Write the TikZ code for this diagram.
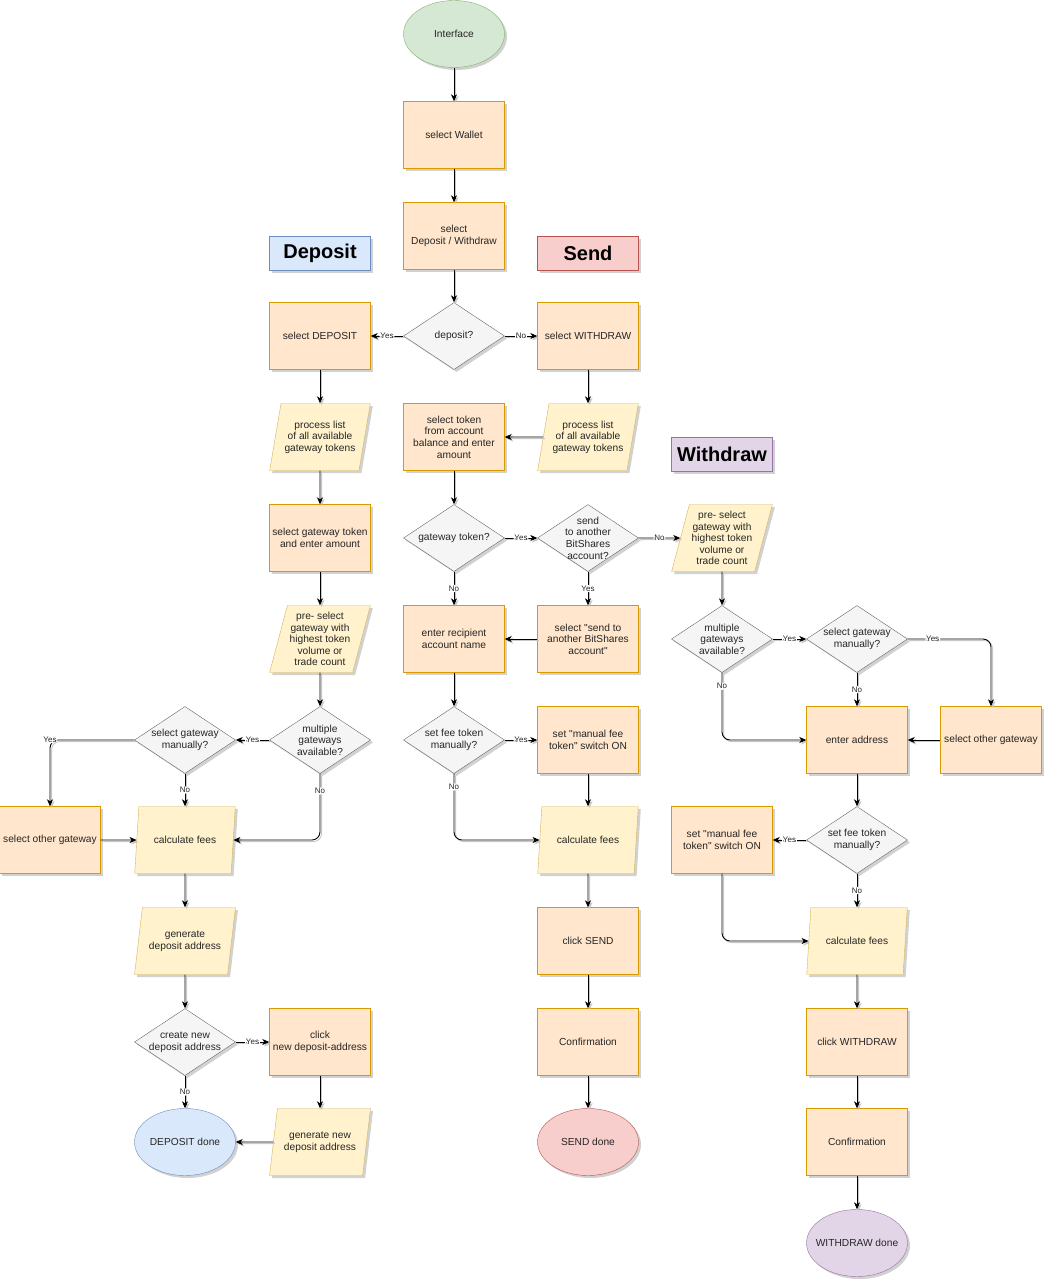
\documentclass[tikz,border=0pt]{standalone}
\usepackage{fontspec}
\setmainfont{Liberation Sans}
\usetikzlibrary{shapes.geometric,arrows.meta,shadows}
\definecolor{boxF}{HTML}{FFE6CC}\definecolor{boxD}{HTML}{D79B00}
\definecolor{parF}{HTML}{FFF2CC}\definecolor{parD}{HTML}{D6B656}
\definecolor{diaF}{HTML}{F5F5F5}\definecolor{diaD}{HTML}{666666}
\definecolor{grnF}{HTML}{D5E8D4}\definecolor{grnD}{HTML}{82B366}
\definecolor{bluF}{HTML}{DAE8FC}\definecolor{bluD}{HTML}{6C8EBF}
\definecolor{redF}{HTML}{F8CECC}\definecolor{redD}{HTML}{B85450}
\definecolor{purF}{HTML}{E1D5E7}\definecolor{purD}{HTML}{9673A6}
\newcommand{\qq}{\textquotedbl}
\begin{document}
\begin{tikzpicture}[x=1pt,y=-1pt,
  txt/.style={font=\fontsize{10.2}{11.6}\selectfont,align=center,inner sep=1pt,text=black!85},
  base/.style={txt,
    drop shadow={shadow xshift=2.5pt,shadow yshift=-2.5pt,fill=black!40,opacity=0.45}},
  proc/.style={base,rectangle,draw=boxD,fill=boxF,minimum width=101pt,minimum height=67pt},
  io/.style={base,trapezium,trapezium left angle=73,trapezium right angle=107,trapezium stretches=true,
    draw=parD,fill=parF,minimum width=101pt,minimum height=67pt},
  dec/.style={base,diamond,draw=diaD,fill=diaF,minimum width=101pt,minimum height=67pt,inner sep=0pt},
  term/.style={base,ellipse,minimum width=101pt,minimum height=67pt,inner sep=0pt},
  in/.style={label={[txt]center:{#1}}},
  title/.style={base,rectangle,minimum width=101pt,minimum height=34pt,font=\fontsize{20}{24}\bfseries,text=black},
  arr/.style={draw=black,line width=0.9pt,-{Stealth[length=7pt,width=6pt,inset=2pt]},rounded corners=8pt,
    preaction={draw=black!22,line width=0.9pt,transform canvas={shift={(1.6pt,-1.6pt)}}}},
  lbl/.style={fill=white,font=\fontsize{8}{9}\selectfont,inner sep=0.8pt,text=black!85}
]
\useasboundingbox (0,0) rectangle (1044,1280);
% ---- centre column
\node[term,draw=grnD,fill=grnF,in={Interface}] (iface) at (454,34) {};
\node[proc] (wallet) at (454,135) {select Wallet};
\node[proc] (depwd) at (454,236) {select\\Deposit / Withdraw};
\node[dec,in={deposit?}] (isdep) at (454,336) {};
\node[title,draw=bluD,fill=bluF] (tDep) at (320,253) {Deposit};
\node[title,draw=redD,fill=redF] (tSend) at (588,253) {Send};
\node[title,draw=purD,fill=purF] (tWd) at (722,454) {Withdraw};
% ---- deposit column
\node[proc] (selDep) at (320,336) {select DEPOSIT};
\node[io] (procD) at (320,437) {process list\\of all available\\gateway tokens};
\node[proc] (selGwTok) at (320,538) {select gateway token\\and enter amount};
\node[io] (preD) at (320,639) {pre- select\\gateway with\\highest token\\volume or\\trade count};
\node[dec,in={multiple\\gateways\\available?}] (multiD) at (320,740) {};
\node[dec,in={select gateway\\manually?}] (manD) at (185,740) {};
\node[proc] (otherD) at (50,840) {select other gateway};
\node[io] (calcD) at (185,840) {calculate fees};
\node[io] (genD) at (185,941) {generate\\deposit address};
\node[dec,in={create new\\deposit address}] (newQ) at (185,1042) {};
\node[proc] (clickNew) at (320,1042) {click\\new deposit-address};
\node[term,draw=bluD,fill=bluF,in={DEPOSIT done}] (depDone) at (185,1142) {};
\node[io] (genNew) at (320,1142) {generate new\\deposit address};
% ---- send column
\node[proc] (selWd) at (588,336) {select WITHDRAW};
\node[io] (procW) at (588,437) {process list\\of all available\\gateway tokens};
\node[proc] (selTok) at (454,437) {select token\\from account\\balance and enter\\amount};
\node[dec,in={gateway token?}] (gwQ) at (454,538) {};
\node[dec,in={send\\to another\\BitShares\\account?}] (sendQ) at (588,538) {};
\node[proc] (recip) at (454,639) {enter recipient\\account name};
\node[proc] (selSend) at (588,639) {select \qq send to\\another BitShares\\account\qq};
\node[dec,in={set fee token\\manually?}] (feeS) at (454,740) {};
\node[proc] (manS) at (588,740) {set \qq manual fee\\token\qq\ switch ON};
\node[io] (calcS) at (588,840) {calculate fees};
\node[proc] (clickSend) at (588,941) {click SEND};
\node[proc] (confS) at (588,1042) {Confirmation};
\node[term,draw=redD,fill=redF,in={SEND done}] (sendDone) at (588,1142) {};
% ---- withdraw columns
\node[io] (preW) at (722,538) {pre- select\\gateway with\\highest token\\volume or\\trade count};
\node[dec,in={multiple\\gateways\\available?}] (multiW) at (722,639) {};
\node[dec,in={select gateway\\manually?}] (manW) at (857,639) {};
\node[proc] (addr) at (857,740) {enter address};
\node[proc] (otherW) at (991,740) {select other gateway};
\node[proc] (manFW) at (722,840) {set \qq manual fee\\token\qq\ switch ON};
\node[dec,in={set fee token\\manually?}] (feeW) at (857,840) {};
\node[io] (calcW) at (857,941) {calculate fees};
\node[proc] (clickWd) at (857,1042) {click WITHDRAW};
\node[proc] (confW) at (857,1142) {Confirmation};
\node[term,draw=purD,fill=purF,in={WITHDRAW done}] (wdDone) at (857,1243) {};
% ---- connectors
\draw[arr] (iface) -- (wallet);
\draw[arr] (wallet) -- (depwd);
\draw[arr] (depwd) -- (isdep);
\draw[arr] (isdep) -- node[lbl]{Yes} (selDep);
\draw[arr] (isdep) -- node[lbl]{No} (selWd);
% deposit
\draw[arr] (selDep) -- (procD);
\draw[arr] (procD) -- (selGwTok);
\draw[arr] (selGwTok) -- (preD);
\draw[arr] (preD) -- (multiD);
\draw[arr] (multiD) -- node[lbl]{Yes} (manD);
\draw[arr] (multiD.south) |- node[lbl,pos=0.13]{No} (calcD.east);
\draw[arr] (manD.west) -| node[lbl,pos=0.5]{Yes} (otherD.north);
\draw[arr] (manD) -- node[lbl]{No} (calcD);
\draw[arr] (otherD) -- (calcD);
\draw[arr] (calcD) -- (genD);
\draw[arr] (genD) -- (newQ);
\draw[arr] (newQ) -- node[lbl]{Yes} (clickNew);
\draw[arr] (newQ) -- node[lbl]{No} (depDone);
\draw[arr] (clickNew) -- (genNew);
\draw[arr] (genNew) -- (depDone);
% send
\draw[arr] (selWd) -- (procW);
\draw[arr] (procW) -- (selTok);
\draw[arr] (selTok) -- (gwQ);
\draw[arr] (gwQ) -- node[lbl]{Yes} (sendQ);
\draw[arr] (gwQ) -- node[lbl]{No} (recip);
\draw[arr] (sendQ) -- node[lbl]{No} (preW);
\draw[arr] (sendQ) -- node[lbl]{Yes} (selSend);
\draw[arr] (selSend) -- (recip);
\draw[arr] (recip) -- (feeS);
\draw[arr] (feeS) -- node[lbl]{Yes} (manS);
\draw[arr] (feeS.south) |- node[lbl,pos=0.1]{No} (calcS.west);
\draw[arr] (manS) -- (calcS);
\draw[arr] (calcS) -- (clickSend);
\draw[arr] (clickSend) -- (confS);
\draw[arr] (confS) -- (sendDone);
% withdraw
\draw[arr] (preW) -- (multiW);
\draw[arr] (multiW) -- node[lbl]{Yes} (manW);
\draw[arr] (multiW.south) |- node[lbl,pos=0.1]{No} (addr.west);
\draw[arr] (manW.east) -| node[lbl,pos=0.15]{Yes} (otherW.north);
\draw[arr] (manW) -- node[lbl]{No} (addr);
\draw[arr] (otherW) -- (addr);
\draw[arr] (addr) -- (feeW);
\draw[arr] (feeW) -- node[lbl]{Yes} (manFW);
\draw[arr] (feeW) -- node[lbl]{No} (calcW);
\draw[arr] (manFW.south) |- (calcW.west);
\draw[arr] (calcW) -- (clickWd);
\draw[arr] (clickWd) -- (confW);
\draw[arr] (confW) -- (wdDone);
\end{tikzpicture}
\end{document}
